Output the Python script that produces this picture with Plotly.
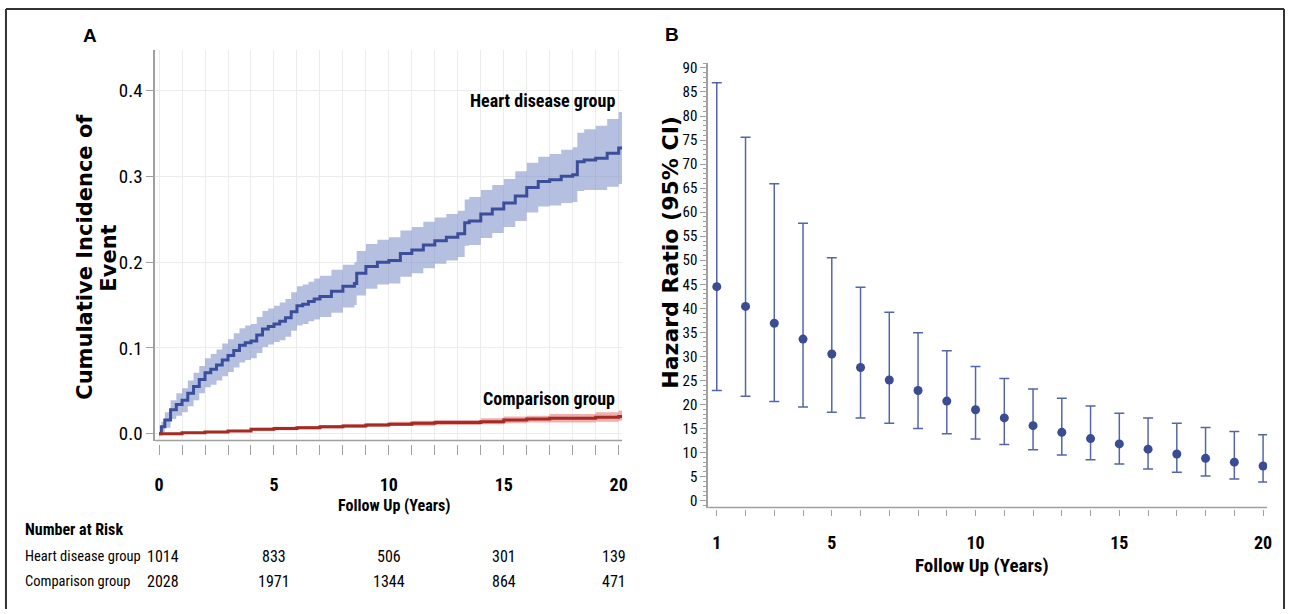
import plotly.graph_objects as go

W, H = 1292, 614


def px(x):
    return x / W


def py(y):
    return 1 - y / H


# ---------------- Panel A data (cumulative incidence) ----------------
hd_time = [0.0, 0.1, 0.25, 0.5, 0.75, 1.0, 1.25, 1.5, 1.75, 2.0, 2.25, 2.5, 2.75, 3.0,
           3.25, 3.5, 3.75, 4.0, 4.25, 4.5, 4.75, 5.0, 5.25, 5.5, 5.75, 6.0, 6.25, 6.5,
           6.75, 7.0, 7.5, 8.0, 8.5, 8.6, 9.0, 9.5, 10.0, 10.5, 11.0, 11.5, 12.0, 12.5,
           13.0, 13.3, 13.5, 14.0, 14.5, 15.0, 15.5, 16.0, 16.5, 17.0, 17.5, 18.0, 18.2,
           18.5, 19.0, 19.5, 20.0, 20.15]
hd_est = [0.000, 0.008, 0.016, 0.028, 0.034, 0.039, 0.047, 0.055, 0.063, 0.071, 0.075,
          0.080, 0.086, 0.091, 0.097, 0.103, 0.106, 0.108, 0.115, 0.122, 0.125, 0.128,
          0.131, 0.135, 0.142, 0.149, 0.151, 0.154, 0.157, 0.160, 0.166, 0.172, 0.175,
          0.187, 0.195, 0.200, 0.202, 0.210, 0.214, 0.220, 0.225, 0.229, 0.233, 0.246,
          0.248, 0.256, 0.262, 0.269, 0.277, 0.287, 0.294, 0.296, 0.300, 0.302, 0.317,
          0.319, 0.321, 0.327, 0.333, 0.333]
hd_lo = [0.000, 0.002, 0.007, 0.017, 0.021, 0.025, 0.032, 0.039, 0.047, 0.054, 0.057,
         0.062, 0.067, 0.072, 0.077, 0.083, 0.086, 0.088, 0.094, 0.101, 0.104, 0.107,
         0.109, 0.113, 0.120, 0.126, 0.128, 0.131, 0.133, 0.136, 0.141, 0.147, 0.150,
         0.161, 0.169, 0.174, 0.175, 0.183, 0.187, 0.193, 0.198, 0.202, 0.206, 0.219,
         0.220, 0.228, 0.234, 0.241, 0.248, 0.258, 0.265, 0.266, 0.269, 0.270, 0.283,
         0.284, 0.284, 0.288, 0.291, 0.291]
hd_hi = [0.000, 0.014, 0.025, 0.039, 0.047, 0.053, 0.062, 0.071, 0.079, 0.088, 0.093,
         0.098, 0.105, 0.110, 0.117, 0.123, 0.126, 0.128, 0.136, 0.143, 0.146, 0.149,
         0.153, 0.157, 0.165, 0.172, 0.174, 0.177, 0.181, 0.184, 0.191, 0.197, 0.200,
         0.213, 0.221, 0.226, 0.229, 0.237, 0.241, 0.247, 0.252, 0.256, 0.260, 0.273,
         0.276, 0.284, 0.290, 0.297, 0.306, 0.316, 0.323, 0.326, 0.331, 0.334, 0.351,
         0.355, 0.359, 0.367, 0.375, 0.375]

cg_time = [0, 1, 2, 3, 4, 5, 6, 7, 8, 9, 10, 11, 12, 13, 14, 15, 16, 17, 18, 19, 20, 20.15]
cg_est = [0.000, 0.001, 0.002, 0.003, 0.005, 0.006, 0.007, 0.008, 0.009, 0.010, 0.011,
          0.012, 0.013, 0.013, 0.014, 0.016, 0.017, 0.018, 0.018, 0.019, 0.020, 0.020]
cg_lo = [0.000, 0.000, 0.001, 0.002, 0.003, 0.004, 0.005, 0.006, 0.007, 0.008, 0.009,
         0.009, 0.010, 0.010, 0.011, 0.012, 0.013, 0.013, 0.013, 0.014, 0.015, 0.015]
cg_hi = [0.000, 0.002, 0.003, 0.004, 0.007, 0.008, 0.009, 0.010, 0.011, 0.012, 0.014,
         0.015, 0.016, 0.016, 0.018, 0.020, 0.021, 0.023, 0.023, 0.025, 0.027, 0.027]

group_names = ["Heart disease group", "Comparison group"]
risk_times = [0, 5, 10, 15, 20]
risk_heart = [1014, 833, 506, 301, 139]
risk_comp = [2028, 1971, 1344, 864, 471]
a_xticks = list(range(0, 21))
a_xlabels = ["0", "5", "10", "15", "20"]

# ---------------- Panel B data (hazard ratios) ----------------
hr_years = list(range(1, 21))
hr_est = [44.5, 40.4, 36.9, 33.6, 30.5, 27.7, 25.1, 22.9, 20.7, 18.9,
          17.2, 15.6, 14.2, 12.9, 11.8, 10.7, 9.7, 8.8, 8.0, 7.2]
hr_lo = [22.9, 21.7, 20.6, 19.5, 18.4, 17.2, 16.1, 15.0, 13.9, 12.8,
         11.7, 10.6, 9.5, 8.5, 7.6, 6.6, 5.9, 5.1, 4.5, 3.9]
hr_hi = [86.9, 75.6, 65.9, 57.7, 50.5, 44.4, 39.2, 34.9, 31.2, 27.9,
         25.4, 23.2, 21.3, 19.7, 18.2, 17.2, 16.1, 15.2, 14.4, 13.7]
b_xlabels = ["1", "5", "10", "15", "20"]

# ---------------- styles ----------------
NARROW = "Liberation Sans Narrow, Arial Narrow, Roboto Condensed, DejaVu Sans Condensed, sans-serif"
WIDE_BOLD = "DejaVu Sans, Verdana, sans-serif"
ARIAL = "Liberation Sans, Arial, sans-serif"
BLUE = "#3B4E9B"
BLUE_BAND = "rgba(120,140,200,0.55)"
RED = "#A52A22"
RED_BAND = "rgba(225,110,110,0.55)"
AXIS = "#A0A0A0"
GRID = "#ECECEC"

fig = go.Figure()

# heart disease band + line
fig.add_trace(go.Scatter(x=hd_time, y=hd_lo, mode="lines", line=dict(width=0, shape="hv"),
                         showlegend=False, hoverinfo="skip", xaxis="x", yaxis="y"))
fig.add_trace(go.Scatter(x=hd_time, y=hd_hi, mode="lines", line=dict(width=0, shape="hv"),
                         fill="tonexty", fillcolor=BLUE_BAND, showlegend=False,
                         hoverinfo="skip", xaxis="x", yaxis="y"))
fig.add_trace(go.Scatter(x=hd_time, y=hd_est, mode="lines", name=group_names[0],
                         line=dict(color=BLUE, width=3, shape="hv"), showlegend=False,
                         xaxis="x", yaxis="y"))
# comparison band + line
fig.add_trace(go.Scatter(x=cg_time, y=cg_lo, mode="lines", line=dict(width=0, shape="hv"),
                         showlegend=False, hoverinfo="skip", xaxis="x", yaxis="y"))
fig.add_trace(go.Scatter(x=cg_time, y=cg_hi, mode="lines", line=dict(width=0, shape="hv"),
                         fill="tonexty", fillcolor=RED_BAND, showlegend=False,
                         hoverinfo="skip", xaxis="x", yaxis="y"))
fig.add_trace(go.Scatter(x=cg_time, y=cg_est, mode="lines", name=group_names[1],
                         line=dict(color=RED, width=3, shape="hv"), showlegend=False,
                         xaxis="x", yaxis="y"))

# hazard ratios
fig.add_trace(go.Scatter(
    x=hr_years, y=hr_est, mode="markers",
    marker=dict(color="#3A4C92", size=9),
    error_y=dict(type="data", symmetric=False,
                 array=[h - e for h, e in zip(hr_hi, hr_est)],
                 arrayminus=[e - l for e, l in zip(hr_est, hr_lo)],
                 color="#5566A8", thickness=1.5, width=5),
    showlegend=False, xaxis="x2", yaxis="y2"))

A_X0, A_X1, A_YB, A_YT = 155, 624.5, 443, 47
B_X0, B_X1, B_YB, B_YT = 711, 1273, 511, 60

fig.update_layout(
    width=W, height=H,
    margin=dict(l=0, r=0, t=0, b=0),
    paper_bgcolor="white", plot_bgcolor="white",
    showlegend=False,
    xaxis=dict(domain=[px(A_X0), px(A_X1)], range=[-0.17, 20.15],
               anchor="free", position=py(447),
               tickvals=a_xticks,
               ticktext=[str(v) if str(v) in a_xlabels else "" for v in a_xticks],
               ticks="outside", ticklen=10, tickcolor=AXIS, tickwidth=1,
               showline=False, showgrid=True, gridcolor=GRID, gridwidth=1,
               zeroline=False, ticklabelstandoff=14,
               tickfont=dict(family=NARROW, size=18, color="black", weight="bold")),
    yaxis=dict(domain=[py(A_YB), py(A_YT)], range=[-0.008, 0.447],
               anchor="x", tickvals=[0.0, 0.1, 0.2, 0.3, 0.4], tickformat=".1f",
               ticks="outside", ticklen=7, tickcolor=AXIS,
               showline=True, linecolor=AXIS, linewidth=1.5,
               showgrid=True, gridcolor=GRID, zeroline=False,
               tickfont=dict(family=NARROW, size=19, color="black")),
    xaxis2=dict(domain=[px(B_X0), px(B_X1)], range=[0.70, 20.14],
                anchor="free", position=py(513),
                tickvals=hr_years,
                ticktext=[str(v) if str(v) in b_xlabels else "" for v in hr_years],
                ticks="outside", ticklen=6, tickcolor=AXIS,
                showline=False, showgrid=False, zeroline=False, ticklabelstandoff=11,
                tickfont=dict(family=NARROW, size=18, color="black", weight="bold")),
    yaxis2=dict(domain=[py(B_YB), py(B_YT)], range=[-1.43, 91],
                anchor="x2", tickvals=list(range(0, 91, 5)),
                ticks="outside", ticklen=6, tickcolor=AXIS,
                minor=dict(dtick=1, ticks="outside", ticklen=3, tickcolor=AXIS),
                showline=True, linecolor=AXIS, linewidth=1.5,
                showgrid=False, zeroline=False,
                tickfont=dict(family=NARROW, size=15, color="black")),
)

FRAME = dict(color="#333333", width=2)
shapes = [
    # x axis lines (drawn separately, ticks hang below with a small gap)
    dict(type="line", xref="paper", yref="paper", x0=px(A_X0), x1=px(A_X1),
         y0=py(A_YB), y1=py(A_YB), line=dict(color=AXIS, width=1.5)),
    dict(type="line", xref="paper", yref="paper", x0=px(B_X0), x1=px(B_X1),
         y0=py(B_YB), y1=py(B_YB), line=dict(color=AXIS, width=1.5)),
    # outer frame: top, left, right (bottom edge falls outside the picture)
    dict(type="line", xref="paper", yref="paper", x0=px(5), x1=px(1290),
         y0=py(5), y1=py(5), line=FRAME),
    dict(type="line", xref="paper", yref="paper", x0=px(5), x1=px(5),
         y0=0, y1=py(5), line=FRAME),
    dict(type="line", xref="paper", yref="paper", x0=px(1290), x1=px(1290),
         y0=0, y1=py(5), line=FRAME),
]
fig.update_layout(shapes=shapes)


def note(text, x, y, size, family=NARROW, xanchor="center", angle=0, xref="paper", xshift=0):
    return dict(text=text, x=x, y=y, xref=xref, yref="paper", xanchor=xanchor,
                yanchor="middle", xshift=xshift, showarrow=False, textangle=angle,
                font=dict(family=family, size=size, color="black"))


ann = []
# panel letters
ann.append(note("<b>A</b>", px(89), py(32), 19, ARIAL))
ann.append(note("<b>B</b>", px(675), py(31), 19, ARIAL))
# axis titles
ann.append(note("<b>Cumulative Incidence of</b>", px(85), py(257), 21, WIDE_BOLD, angle=-90))
ann.append(note("<b>Event</b>", px(109), py(258), 21, WIDE_BOLD, angle=-90))
ann.append(note("<b>Follow Up (Years)</b>", px(395), py(509), 16))
ann.append(note("<b>Hazard Ratio (95% CI)</b>", px(673), py(252), 22, WIDE_BOLD, angle=-90))
ann.append(note("<b>Follow Up (Years)</b>", px(986), py(570), 19))
# curve labels
ann.append(note("<b>" + group_names[0] + "</b>", px(619), py(98), 18, xanchor="right"))
ann.append(note("<b>" + group_names[1] + "</b>", px(619), py(400), 18, xanchor="right"))
# number at risk table
ann.append(note("<b>Number at Risk</b>", px(22), py(533), 16, xanchor="left"))
row_y = [py(561), py(586)]
for name, ry, counts in zip(group_names, row_y, [risk_heart, risk_comp]):
    ann.append(note(name, px(22), ry, 14.5, xanchor="left"))
    for i, (t, n) in enumerate(zip(risk_times, counts)):
        shift = 4 if i == 0 else (-4.5 if i == len(risk_times) - 1 else 0)
        ann.append(note(str(n), t, ry, 16, xref="x", xshift=shift))
fig.update_layout(annotations=ann)

fig.write_html(
    "out.html",
    config={"displayModeBar": False},
    post_script=("document.body.style.margin='0px';"
                 "document.body.style.padding='0px';"
                 "document.documentElement.style.overflow='hidden';"
                 "document.body.style.overflow='hidden';"),
)
